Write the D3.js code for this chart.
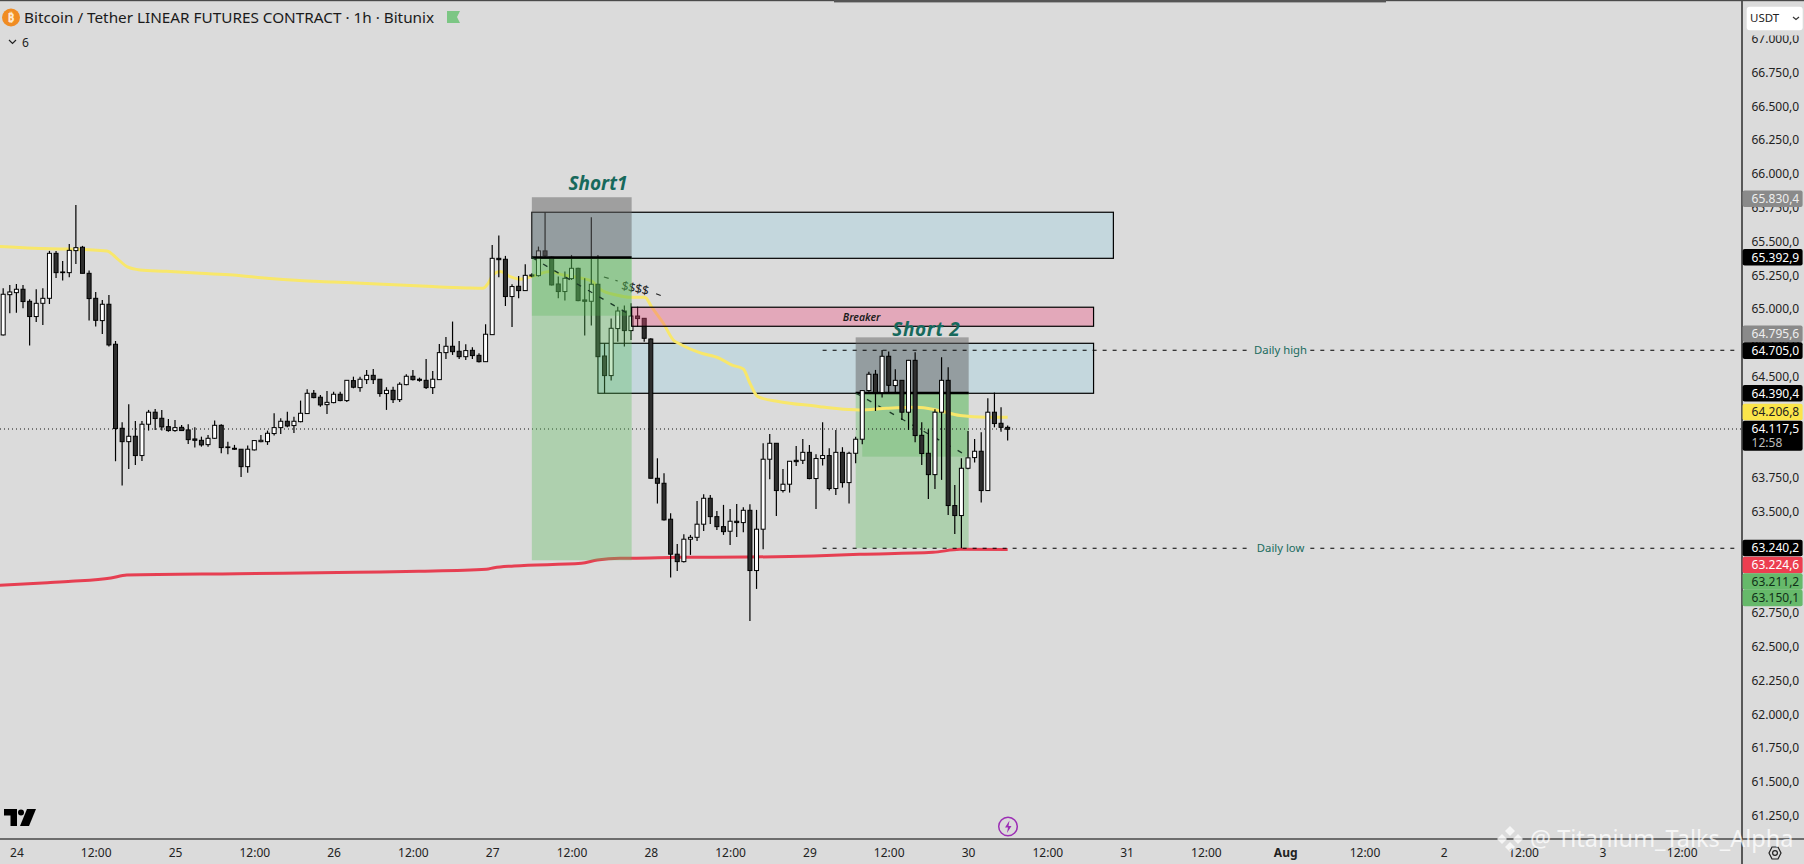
<!DOCTYPE html>
<html>
<head>
<meta charset="utf-8">
<script src="https://cdn.jsdelivr.net/npm/d3@7"></script>
<style>
    html, body { margin: 0; padding: 0; background: #dbdbdb; overflow: hidden; }
    svg { display: block; }
    text { font-family: "Noto Sans", sans-serif; }
</style>
</head>
<body>
<span></span>
<script>
let width = 1804;
let height = 864;
let axisX = 1742;
let axisY = 839;

// first candle is 22:00 on the 23rd, one candle per hour
let firstHour = -2;

let highs = [65153,65178,65185,65178,65072,65146,65153,65430,65430,65356,
    65481,65770,65467,65284,65126,65067,65104,64763,64161,64295,
    64171,64171,64253,64260,64253,64186,64179,64142,64147,64124,
    64055,64068,64174,64147,64018,63994,63964,63989,64031,64068,
    64100,64228,64191,64240,64203,64322,64406,64401,64364,64393,
    64388,64388,64475,64499,64499,64549,64556,64482,64421,64425,
    64458,64517,64549,64492,64630,64541,64741,64793,64907,64763,
    64739,64717,64672,64887,65474,65543,65393,65183,65245,65331,
    65264,65462,65716,65388,65240,65277,65400,65306,65227,65679,
    65400,64746,64929,65017,65025,65042,65017,64931,64783,63895,
    63784,63488,63261,63333,63328,63579,63629,63624,63505,63550,
    63520,63557,63532,63555,63513,64006,64075,64006,63816,63875,
    63986,64038,63994,63925,64161,63969,64105,63977,63944,64055,
    64401,64536,64549,64697,64685,64554,64475,64623,64680,64161,
    64110,64258,64643,64569,63698,63895,64097,64038,64088,64339,
    64381,64272,64137];

let lows = [64803,64968,64973,65005,64729,64904,64882,65037,65230,65210,
    65235,65333,65264,64914,64870,64815,64722,63873,63693,63816,
    63846,63875,64100,64105,64100,64092,64092,64100,64001,63974,
    63981,63981,64038,63932,63925,63957,63757,63787,63952,64013,
    63994,64063,64075,64124,64083,64161,64223,64339,64277,64223,
    64302,64317,64312,64413,64388,64445,64445,64351,64253,64305,
    64312,64435,64470,64462,64408,64371,64475,64630,64660,64630,
    64623,64630,64603,64608,64808,65235,65022,64867,65079,65133,
    65235,65240,65375,65173,65079,65062,65215,65057,64803,64877,
    64647,64376,64470,64758,64722,64771,64870,64758,63747,63560,
    63434,63012,63061,63123,63180,63283,63357,63409,63365,63328,
    63254,63313,63347,62691,62928,63222,63740,63468,63641,63641,
    63838,63853,63740,63520,63841,63656,63624,63678,63560,63858,
    63999,64388,64245,64344,64381,64381,64179,64105,64013,63846,
    63594,63668,63735,63476,63335,63229,63814,63863,63567,63653,
    64124,64092,64026];

let opens = [64808,65106,65121,65146,65057,64944,65042,65079,65412,65269,
    65269,65432,65457,65264,65079,64914,65035,64739,64117,64018,
    64058,63915,64147,64236,64191,64129,64100,64124,64105,64038,
    64028,63996,64043,64139,63974,63969,63962,63833,63957,64018,
    64018,64078,64122,64169,64137,64166,64226,64376,64347,64292,
    64307,64369,64322,64470,64418,64477,64509,64480,64374,64398,
    64329,64440,64502,64480,64472,64418,64477,64677,64724,64687,
    64647,64694,64657,64610,64810,65375,65368,65092,65168,65136,
    65244,65247,65430,65383,65185,65129,65225,65301,65067,65057,
    65183,64652,64507,64855,64985,64840,64948,64931,64778,63747,
    63710,63444,63185,63130,63296,63310,63407,63599,63463,63389,
    63355,63429,63419,63510,63064,63370,63888,64006,63656,63703,
    63880,63880,63939,63745,63893,63915,63671,63939,63715,63932,
    64036,64396,64517,64381,64650,64433,64472,64236,64620,64065,
    63932,63774,64236,64472,63545,63471,63821,63900,63947,63656,
    64236,64154,64124];

let closes = [65109,65126,65146,65055,64944,65042,65079,65412,65269,65274,
    65434,65454,65264,65077,64916,65035,64734,64115,64018,64058,
    63915,64147,64236,64189,64127,64100,64122,64100,64033,64028,
    63994,64043,64139,63974,63979,63962,63833,63962,64026,64028,
    64080,64122,64169,64134,64169,64228,64376,64344,64290,64309,
    64369,64322,64472,64421,64480,64509,64477,64374,64398,64329,
    64443,64502,64477,64472,64418,64480,64677,64724,64684,64647,
    64692,64655,64610,64813,65375,65365,65092,65166,65136,65249,
    65252,65430,65393,65178,65129,65227,65301,65062,65057,65183,
    64647,64507,64857,64985,64840,64948,64929,64783,63747,63710,
    63439,63185,63130,63296,63310,63407,63599,63463,63389,63352,
    63429,63419,63510,63064,63370,63888,64006,63656,63703,63873,
    63870,63939,63745,63893,63915,63671,63939,63715,63932,64036,
    64396,64517,64381,64650,64435,64472,64236,64620,64063,63930,
    63774,64236,64472,63545,63471,63821,63898,63947,63656,64236,
    64152,64124,64110];

// yellow moving average
let yellowHours = [-2.5,2.6,7.6,13.7,15.2,16.9,18.7,22.7,27.8,32.8,37.9,42.9,47.9,53,58,63,68.1,70.6,71.4,72.1,73.2,74.7,76.2,78.2,
    80.7,82.7,84.8,87,88.5,90.8,92.8,95.1,96.1,97.9,99.4,100.4,103.4,106.4,108.2,110,111,112.2,115.5,121.6,122.6,127.6,131.7,136.2,139.2,142.8,146.8,150];
let yellowValues = [65462,65449,65444,65430,65375,65309,65289,65279,65264,65252,65227,65210,65200,65188,65178,65166,65156,65153,65190,65252,65277,65240,65220,65244,
    65277,65252,65235,65208,65141,65104,65087,65087,65017,64894,64771,64741,64677,64635,64586,64556,64450,64351,64314,64277,64270,64253,64265,64272,64253,64211,64199,64199];

// red moving average
let redHours = [-2.5,4.7,8.3,14.3,16.7,33.4,51.4,60.9,71.1,72.3,75.3,85.5,87.9,91.3,93.1,100.4,110.5,120.6,127.6,138.7,142.8,150];
let redValues = [62955,62974,62984,63009,63031,63041,63051,63058,63073,63085,63098,63118,63142,63155,63155,63162,63164,63172,63184,63199,63221,63219];

// price axis
let priceTicks = d3.range(61250, 67001, 250);
let priceLocale = d3.formatLocale({ decimal: ",", thousands: ".", grouping: [3], currency: ["", ""] });
let priceFormat = priceLocale.format(",.1f");

// time axis
let timeHours = [0,12,24,36,48,60,72,84,96,108,120,132,144,156,168,180,192,204,216,228,240,252];
let timeLabels = ["24","12:00","25","12:00","26","12:00","27","12:00","28","12:00","29","12:00","30","12:00","31","12:00","Aug","12:00","2","12:00","3","12:00"];

// price tags on the axis
let tagLabels = ["65.830,4","65.392,9","64.795,6","64.705,0","64.390,4","64.206,8","64.117,5","63.240,2","63.224,6","63.211,2","63.150,1"];
let tagLevels = [65816,65383,64817,64692,64376,64238,64112,63231,63105,62983,62861];
let tagFills = ["#8a8a8a","#000000","#8a8a8a","#000000","#000000","#fbe54a","#000000","#000000","#ec3e50","#66b96a","#66b96a"];
let tagInks = ["#eeeeee","#ffffff","#eeeeee","#ffffff","#ffffff","#222222","#ffffff","#ffffff","#ffffff","#103018","#103018"];

let lastPrice = 64112;
let dailyHigh = 64695;
let dailyLow = 63229;

// drawings, time in hours and price levels
let topBox = { from: 78, to: 166, top: 65716, bottom: 65375 };
let lowerBox = { from: 88, to: 163, top: 64746, bottom: 64376 };
let breakerBox = { from: 93.1, to: 163, top: 65013, bottom: 64872 };
let short1 = { from: 78, to: 93.1, stop: 65827, entry: 65381, reached: 64950, target: 63140, darkFrom: 78 };
let short2 = { from: 127, to: 144.1, stop: 64790, entry: 64378, reached: 63907, target: 63229, darkFrom: 128 };

let x = d3.scaleLinear().domain([0, 240]).range([16.4, 1602.4]);
let y = d3.scaleLinear().domain([61077, 67287]).range([axisY, 0]);

let svg = d3.select("span")
    .append("svg")
    .attr("width", width)
    .attr("height", height);

svg.append("rect")
    .attr("width", width)
    .attr("height", height)
    .style("fill", "#dbdbdb");

let chart = svg.append("g");

function drawBox(parent, box, fill) {
    parent.append("rect")
        .attr("x", x(box.from))
        .attr("y", y(box.top))
        .attr("width", x(box.to) - x(box.from))
        .attr("height", y(box.bottom) - y(box.top))
        .style("fill", fill)
        .style("stroke", "#000")
        .style("stroke-width", 1.2);
}

function drawPosition(parent, pos) {
    let w = x(pos.to) - x(pos.from);
    // stop side
    parent.append("rect")
        .attr("x", x(pos.from)).attr("y", y(pos.stop))
        .attr("width", w).attr("height", y(pos.entry) - y(pos.stop))
        .style("fill", "rgba(100,100,100,.5)");
    // target side
    parent.append("rect")
        .attr("x", x(pos.from)).attr("y", y(pos.entry))
        .attr("width", w).attr("height", y(pos.target) - y(pos.entry))
        .style("fill", "rgba(91,188,91,.35)");
    // part that was reached
    parent.append("rect")
        .attr("x", x(pos.darkFrom)).attr("y", y(pos.entry))
        .attr("width", x(pos.to) - x(pos.darkFrom)).attr("height", y(pos.reached) - y(pos.entry))
        .style("fill", "rgba(80,180,80,.28)");
    // entry line
    parent.append("line")
        .attr("x1", x(pos.from)).attr("x2", x(pos.to))
        .attr("y1", y(pos.entry)).attr("y2", y(pos.entry))
        .style("stroke", "#000")
        .style("stroke-width", 2.4);
    // dashes from entry down to the reached level
    parent.append("line")
        .attr("x1", x(pos.from)).attr("x2", x(pos.to))
        .attr("y1", y(pos.entry)).attr("y2", y(pos.reached))
        .style("stroke", "#1c3a28")
        .style("stroke-width", 1.3)
        .style("stroke-dasharray", "5 8");
}

function drawLevel(level, label) {
    // dashed level with a gap for its label
    [[122, 186.4], [195.8, 260]].forEach(function (part) {
        chart.append("line")
            .attr("x1", x(part[0]))
            .attr("x2", Math.min(x(part[1]), axisX))
            .attr("y1", y(level))
            .attr("y2", y(level))
            .style("stroke", "#000")
            .style("stroke-width", 1.1)
            .style("stroke-dasharray", "4 6");
    });
    chart.append("text")
        .attr("x", x(191.3))
        .attr("y", y(level) + 4)
        .attr("text-anchor", "middle")
        .style("font-size", "11.3px")
        .style("fill", "#1a6b5e")
        .text(label);
}

// boxes and the second position sit under the candles
drawBox(chart, topBox, "#c4d7dd");
drawBox(chart, lowerBox, "#c4d7dd");
drawPosition(chart, short2);

chart.append("line")
    .attr("x1", 0).attr("x2", axisX)
    .attr("y1", y(lastPrice)).attr("y2", y(lastPrice))
    .style("stroke", "#111")
    .style("stroke-width", 1.1)
    .style("stroke-dasharray", "1 3");

let maLine = d3.line()
    .x((d) => x(d[0]))
    .y((d) => y(d[1]))
    .curve(d3.curveMonotoneX);

chart.append("path")
    .attr("d", maLine(d3.zip(redHours, redValues)))
    .style("fill", "none")
    .style("stroke", "#e63f52")
    .style("stroke-width", 3);

chart.append("path")
    .attr("d", maLine(d3.zip(yellowHours, yellowValues)))
    .style("fill", "none")
    .style("stroke", "#f8e76b")
    .style("stroke-width", 3);

// candles
let candles = chart.selectAll("g.candle")
    .data(d3.range(opens.length))
    .enter()
    .append("g")
    .attr("class", "candle");

candles.append("line")
    .attr("x1", (i) => x(firstHour + i))
    .attr("x2", (i) => x(firstHour + i))
    .attr("y1", (i) => y(highs[i]))
    .attr("y2", (i) => y(lows[i]))
    .style("stroke", "#000")
    .style("stroke-width", 1.2);

candles.append("rect")
    .attr("x", (i) => x(firstHour + i) - 2)
    .attr("y", (i) => y(Math.max(opens[i], closes[i])))
    .attr("width", 4)
    .attr("height", (i) => Math.abs(y(opens[i]) - y(closes[i])))
    .style("fill", (i) => closes[i] >= opens[i] ? "#ffffff" : "#2e2e2e")
    .style("stroke", "#000")
    .style("stroke-width", 1);

// level with the "$$$$" label
[[88.9, 65237, 91, 65207], [96.8, 65113, 97.7, 65096]].forEach(function (d) {
    chart.append("line")
        .attr("x1", x(d[0])).attr("y1", y(d[1]))
        .attr("x2", x(d[2])).attr("y2", y(d[3]))
        .style("stroke", "#222")
        .style("stroke-width", 1.2)
        .style("stroke-dasharray", "5 7");
});
chart.append("text")
    .attr("transform", "translate(" + x(93.5) + "," + (y(65160) + 5) + ") rotate(12)")
    .attr("text-anchor", "middle")
    .style("font-size", "12.5px")
    .style("letter-spacing", "-0.2px")
    .style("fill", "#222")
    .text("$$$$");

// first position and breaker are drawn over the candles
drawPosition(chart, short1);
drawBox(chart, breakerBox, "rgba(243,74,126,.35)");

chart.append("text")
    .attr("x", x(127.9))
    .attr("y", y((breakerBox.top + breakerBox.bottom) / 2) + 4)
    .attr("text-anchor", "middle")
    .style("font-size", "10.5px")
    .style("font-style", "italic")
    .style("font-weight", "600")
    .style("fill", "#1c1c1c")
    .text("Breaker");

drawLevel(dailyHigh, "Daily high");
drawLevel(dailyLow, "Daily low");

chart.append("text")
    .attr("x", x(88))
    .attr("y", y(65878))
    .attr("text-anchor", "middle")
    .style("font-size", "19px")
    .style("font-style", "italic")
    .style("font-weight", "700")
    .style("fill", "#17695c")
    .text("Short1");

chart.append("text")
    .attr("x", x(137.7))
    .attr("y", y(64802))
    .attr("text-anchor", "middle")
    .style("font-size", "19px")
    .style("font-style", "italic")
    .style("font-weight", "700")
    .style("letter-spacing", "0.6px")
    .style("fill", "#17695c")
    .text("Short 2");

// axes
let priceAxis = d3.axisRight(y)
    .tickValues(priceTicks)
    .tickFormat(priceFormat)
    .tickSize(0)
    .tickPadding(9.5);

let priceG = svg.append("g")
    .attr("transform", "translate(" + axisX + ",0)")
    .call(priceAxis);
priceG.select(".domain").remove();
priceG.selectAll("text")
    .style("font-size", "12px")
    .style("font-family", "'Noto Sans', sans-serif")
    .style("fill", "#222");

let timeAxis = d3.axisBottom(x)
    .tickValues(timeHours)
    .tickFormat((d, i) => timeLabels[i])
    .tickSize(0)
    .tickPadding(9);

let timeG = svg.append("g")
    .attr("transform", "translate(0," + axisY + ")")
    .call(timeAxis);
timeG.select(".domain").remove();
timeG.selectAll("text")
    .style("font-size", "12px")
    .style("font-family", "'Noto Sans', sans-serif")
    .style("font-weight", (d, i) => timeLabels[i] === "Aug" ? "700" : "400")
    .style("fill", "#222");

svg.append("line")
    .attr("x1", 0).attr("x2", width)
    .attr("y1", axisY).attr("y2", axisY)
    .style("stroke", "#000")
    .style("stroke-width", 1.2);

svg.append("line")
    .attr("x1", axisX).attr("x2", axisX)
    .attr("y1", 0).attr("y2", height)
    .style("stroke", "#000")
    .style("stroke-width", 1.2);

// tags
let tags = svg.selectAll("g.tag")
    .data(tagLabels)
    .enter()
    .append("g")
    .attr("class", "tag")
    .attr("transform", (d, i) => "translate(" + (axisX + 0.6) + "," + y(tagLevels[i]) + ")");

tags.append("rect")
    .attr("y", -8.3)
    .attr("width", 60)
    .attr("height", (d) => d === "64.117,5" ? 30 : 16.6)
    .attr("rx", 2)
    .style("fill", (d, i) => tagFills[i]);

tags.append("text")
    .attr("x", 9)
    .attr("y", 4.3)
    .style("font-size", "12px")
    .style("fill", (d, i) => tagInks[i])
    .text((d) => d);

svg.append("text")
    .attr("x", axisX + 9.6)
    .attr("y", y(lastPrice) + 18)
    .style("font-size", "12px")
    .style("fill", "#bdbdbd")
    .text("12:58");

// currency selector
svg.append("rect")
    .attr("x", axisX + 1).attr("y", 0)
    .attr("width", 61).attr("height", 35.5)
    .style("fill", "#dbdbdb");
svg.append("rect")
    .attr("x", 1746.7).attr("y", 6.7)
    .attr("width", 56).attr("height", 23.5)
    .attr("rx", 3)
    .style("fill", "#ffffff");
svg.append("text")
    .attr("x", 1750).attr("y", 22)
    .style("font-size", "11.5px")
    .style("fill", "#222")
    .text("USDT");
svg.append("path")
    .attr("d", "M1793 17l3 2.5l3 -2.5")
    .style("fill", "none")
    .style("stroke", "#333")
    .style("stroke-width", 1.2);

// header
svg.append("circle")
    .attr("cx", 11).attr("cy", 17.5).attr("r", 9)
    .style("fill", "#f08c23");
svg.append("text")
    .attr("x", 11).attr("y", 22)
    .attr("text-anchor", "middle")
    .style("font-size", "12px")
    .style("font-weight", "700")
    .style("fill", "#ffe9cf")
    .text("₿");
svg.append("text")
    .attr("x", 24).attr("y", 22.5)
    .style("font-size", "15.3px")
    .style("fill", "#1a1a1a")
    .text("Bitcoin / Tether LINEAR FUTURES CONTRACT · 1h · Bitunix");
svg.append("path")
    .attr("d", "M447 11h13l-3 6l3 6h-13z")
    .style("fill", "#7cc684");
svg.append("path")
    .attr("d", "M9 40l3.5 3.5l3.5 -3.5")
    .style("fill", "none")
    .style("stroke", "#222")
    .style("stroke-width", 1.2);
svg.append("text")
    .attr("x", 22).attr("y", 47)
    .style("font-size", "12px")
    .style("fill", "#222")
    .text("6");

// top edge of the window
svg.append("rect")
    .attr("width", width).attr("height", 1.2)
    .style("fill", "#4a4a4a");
svg.append("rect")
    .attr("x", 834).attr("width", 552).attr("height", 2.4)
    .style("fill", "#555555");

// TradingView mark
svg.append("path")
    .attr("d", "M4 809h13v17h-6.5v-10.5h-6.5z")
    .style("fill", "#000");
svg.append("circle")
    .attr("cx", 21).attr("cy", 812.5).attr("r", 3)
    .style("fill", "#000");
svg.append("path")
    .attr("d", "M27 809h9l-7 17h-9z")
    .style("fill", "#000");

// lightning badge
svg.append("circle")
    .attr("cx", 1008).attr("cy", 826.5).attr("r", 9.3)
    .style("fill", "none")
    .style("stroke", "#9c2fb5")
    .style("stroke-width", 1.5);
svg.append("path")
    .attr("d", "M1009.5 820.5l-4.5 7h3l-1 5.5l4.5 -7h-3z")
    .style("fill", "#9c2fb5");

// settings hexagon
svg.append("path")
    .attr("d", "M1769 853l3 -6h6l3 6l-3 6h-6z")
    .style("fill", "none")
    .style("stroke", "#222")
    .style("stroke-width", 1.2);
svg.append("circle")
    .attr("cx", 1775).attr("cy", 853).attr("r", 2.4)
    .style("fill", "none")
    .style("stroke", "#222")
    .style("stroke-width", 1.2);

// watermark
let mark = svg.append("g").style("opacity", 0.75);
[[1510, 831], [1502, 839], [1518, 839], [1510, 847]].forEach(function (d) {
    mark.append("path")
        .attr("d", "M" + d[0] + " " + (d[1] - 5) + "l5 5l-5 5l-5 -5z")
        .style("fill", "#ffffff");
});
mark.append("text")
    .attr("x", 1530).attr("y", 847)
    .style("font-size", "23.5px")
    .style("fill", "#ffffff")
    .text("@ Titanium_Talks_Alpha");
</script>
</body>
</html>
